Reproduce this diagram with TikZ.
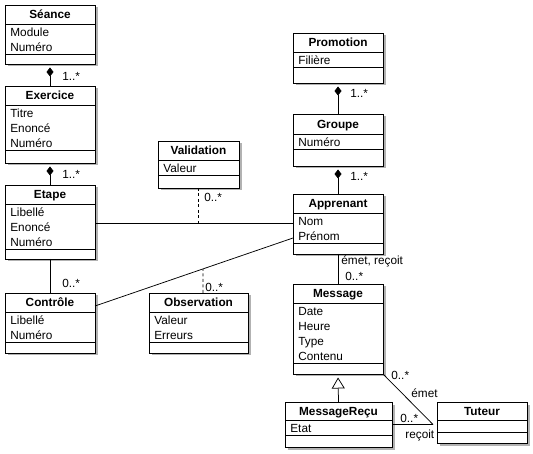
\documentclass[tikz,border=0pt]{standalone}
\usepackage{fontspec}
\setmainfont{Liberation Sans}
\usetikzlibrary{arrows.meta,shadows,calc}
\tikzset{
  cls/.style={draw, fill=white, inner sep=0pt, outer sep=0pt,
    drop shadow={shadow xshift=2.5pt, shadow yshift=-2.5pt, fill=black, opacity=0.3}},
  ctitle/.style={anchor=base, inner sep=0pt, font=\fontsize{11.8}{14}\selectfont\bfseries},
  cattr/.style={anchor=base west, inner sep=0pt},
  lbl/.style={anchor=west, inner sep=0pt},
  assoc/.style={draw, line width=0.75pt},
  compo/.style={assoc, {Diamond[length=9pt,width=7pt]}-, shorten <=3.5pt},
  gener/.style={assoc, -{Triangle[open,length=11pt,width=13pt,line width=0.75pt]}, shorten >=3.5pt},
  dep/.style={assoc, dash pattern=on 3pt off 2.5pt}
}
\newcommand\umlclass[9]{%
  \node[cls, minimum width={(#4-#2)*1pt}, minimum height={(#5-#3)*1pt}] (#1) at ({(#2+#4)/2},{(#3+#5)/2}) {};
  \draw[line width=0.75pt] (#2,#6) -- (#4,#6) (#2,#7) -- (#4,#7);
  \node[ctitle] (#1-t) at ({(#2+#4)/2},{(#3+#6)/2+4.2}) {#8};
  \foreach \a [count=\i] in {#9} {\node[cattr] (#1-a\i) at (#2+5, #6+12.5+15*\i-15) {\a};}
}
\begin{document}
\begin{tikzpicture}[x=1pt, y=-1pt, line width=0.75pt, font=\fontsize{11.8}{14}\selectfont]
\useasboundingbox (0,0) rectangle (533,454);
\fill[white] (0,0) rectangle (533,454);

\umlclass{Seance}{5}{5}{95}{64}{24}{54}{Séance}{Module,Numéro}
\umlclass{Exercice}{5}{86}{95}{163}{105}{150}{Exercice}{Titre,Enoncé,Numéro}
\umlclass{Etape}{5}{185}{95}{259}{204}{249}{Etape}{Libellé,Enoncé,Numéro}
\umlclass{Controle}{5}{293}{95}{353}{312}{342}{Contrôle}{Libellé,Numéro}
\umlclass{Observation}{149}{293}{248}{353}{312}{342}{Observation}{Valeur,Erreurs}
\umlclass{Validation}{158}{141}{239}{188}{160}{175}{Validation}{Valeur}
\umlclass{Promotion}{293}{33}{383}{83}{52}{67}{Promotion}{Filière}
\umlclass{Groupe}{293}{114}{383}{166}{134}{149}{Groupe}{Numéro}
\umlclass{Apprenant}{293}{194}{383}{254}{213}{243}{Apprenant}{Nom,Prénom}
\umlclass{Message}{293}{284}{383}{374}{303}{363}{Message}{Date,Heure,Type,Contenu}
\umlclass{MessageRecu}{285}{402}{392}{447}{420}{435}{MessageReçu}{Etat}
% Tuteur (no attributes)
\node[cls, minimum width=90pt, minimum height=41pt] (Tuteur) at (482,422.5) {};
\draw[line width=0.75pt] (437,420) -- (527,420) (437,432) -- (527,432);
\node[ctitle] (Tuteur-t) at (482,415.2) {Tuteur};

% compositions
\draw[compo] (Seance.south) -- (Exercice.north);
\draw[compo] (Exercice.south) -- (Etape.north);
\draw[compo] (Promotion.south) -- (Groupe.north);
\draw[compo] (Groupe.south) -- (Apprenant.north);
\node[lbl] (l1) at (62,76) {1..*};
\node[lbl] (l2) at (62,174) {1..*};
\node[lbl] (l3) at (350,93) {1..*};
\node[lbl] (l4) at (350,176) {1..*};

% Etape - Controle
\draw[assoc] (Etape.south) -- (Controle.north);
\node[lbl] (l5) at (62,283) {0..*};

% Etape - Apprenant with Validation
\coordinate (ea) at ($(Etape.east |- 0,223)$);
\coordinate (eb) at ($(Apprenant.west |- 0,223)$);
\draw[assoc] (ea) -- (eb);
\coordinate (va) at (Validation.south |- ea);
\draw[dep] (Validation.south) -- (va);
\node[lbl] (l6) at (204,197) {0..*};

% Controle - Apprenant with Observation
\coordinate (c1) at ($(Controle.north east)+(0,13)$);
\coordinate (c2) at ($(Apprenant.north west)+(0,44)$);
\draw[assoc] (c1) -- (c2);
\coordinate (o1) at ($(Observation.north)+(4.5,0)$);
\coordinate (o3) at ($(o1)+(0,-100)$);
\coordinate (o2) at (intersection of c1--c2 and o1--o3);
\draw[dep] (o1) -- (o2);
\node[lbl] (l7) at (205,287) {0..*};

% Apprenant - Message
\draw[assoc] (Apprenant.south) -- (Message.north);
\node[lbl] (l8) at (341,261) {émet, reçoit};
\node[lbl] (l9) at (345,276) {0..*};

% generalization
\draw[gener] (MessageRecu.north) -- (Message.south);

% Tuteur associations
\coordinate (tj) at ($(Tuteur.west |- MessageRecu.east)+(-4,0)$);
\draw[assoc] (MessageRecu.east) -- (tj);
\draw[assoc] (Message.south east) -- (tj);
\node[lbl] (l10) at (391,375) {0..*};
\node[lbl] (l11) at (411,393) {émet};
\node[lbl] (l12) at (400,418) {0..*};
\node[lbl] (l13) at (405,435) {reçoit};
\end{tikzpicture}
\end{document}
